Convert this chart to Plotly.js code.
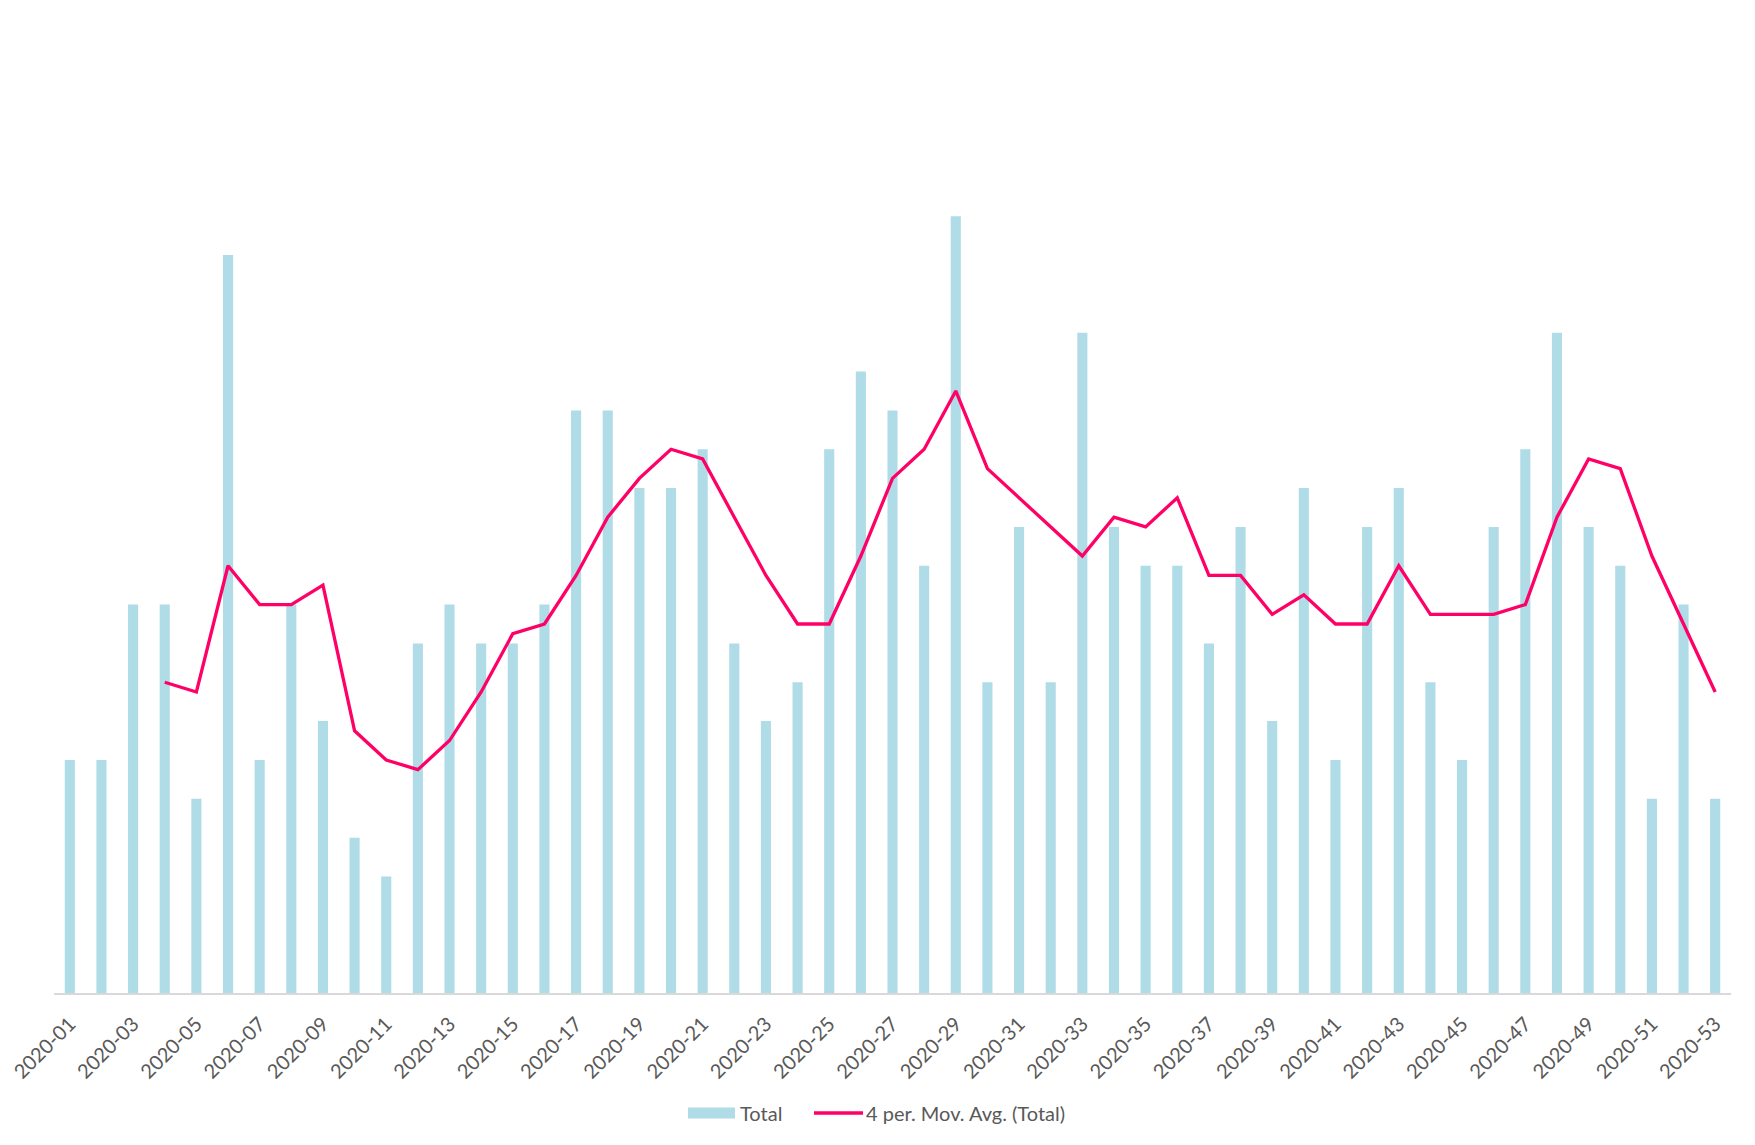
<!DOCTYPE html>
<html>
<head>
<meta charset="utf-8">
<script src="https://cdn.plot.ly/plotly-3.0.1.min.js"></script>
<style>
  html, body { margin: 0; padding: 0; background: #ffffff; }
  #chart { width: 1755px; height: 1145px; }
</style>
</head>
<body>
<div id="chart"></div>
<script>
// weekly totals
var weeks = ['2020-01','2020-02','2020-03','2020-04','2020-05','2020-06','2020-07','2020-08','2020-09','2020-10',
             '2020-11','2020-12','2020-13','2020-14','2020-15','2020-16','2020-17','2020-18','2020-19','2020-20',
             '2020-21','2020-22','2020-23','2020-24','2020-25','2020-26','2020-27','2020-28','2020-29','2020-30',
             '2020-31','2020-32','2020-33','2020-34','2020-35','2020-36','2020-37','2020-38','2020-39','2020-40',
             '2020-41','2020-42','2020-43','2020-44','2020-45','2020-46','2020-47','2020-48','2020-49','2020-50',
             '2020-51','2020-52','2020-53'];

var totals = [6,6,10,10,5,19,6,10,7,4,
              3,9,10,9,9,10,15,15,13,13,
              14,9,7,8,14,16,15,11,20,8,
              12,8,17,12,11,11,9,12,7,13,
              6,12,13,8,6,12,14,17,12,11,
              5,10,5];

// 4 period moving average line as drawn (starts at week 4)
var movAvg = [null,null,null,8,7.75,11,10,10,10.5,6.75,
              6,5.75,6.5,7.75,9.25,9.5,10.75,12.25,13.25,14,
              13.75,12.25,10.75,9.5,9.5,11.25,13.25,14,15.5,13.5,
              12.75,12,11.25,12.25,12,12.75,10.75,10.75,9.75,10.25,
              9.5,9.5,11,9.75,9.75,9.75,10,12.25,13.75,13.5,
              11.25,9.5,7.75];

var barColor = '#b0dce8';
var lineColor = '#ff0066';
var textColor = '#595959';

var W = 1755, H = 1145;
var mar = {l: 54, r: 24, t: 22, b: 152};

// pixel -> paper helpers for the hand made legend
function px(x) { return (x - mar.l) / (W - mar.l - mar.r); }
function py(y) { return (H - mar.b - y) / (H - mar.t - mar.b); }

var barTrace = {
    x: weeks,
    y: totals,
    type: 'bar',
    name: 'Total',
    width: 0.32,
    marker: {color: barColor},
    showlegend: false
};

var avgTrace = {
    x: weeks,
    y: movAvg,
    type: 'scatter',
    mode: 'lines',
    name: '4 per. Mov. Avg. (Total)',
    line: {color: lineColor, width: 3.3},
    showlegend: false
};

var legendY = 1113;

var layout = {
    width: W,
    height: H,
    margin: mar,
    paper_bgcolor: '#ffffff',
    plot_bgcolor: '#ffffff',
    font: {family: 'Lato, "Open Sans", sans-serif', color: textColor, size: 20},
    showlegend: false,
    xaxis: {
        type: 'category',
        tickangle: -45,
        dtick: 2,
        showgrid: false,
        zeroline: false,
        showline: true,
        linecolor: '#d9d9d9',
        linewidth: 1.5,
        ticks: '',
        ticklabelstandoff: 10,
        tickfont: {size: 20, color: textColor}
    },
    yaxis: {
        range: [0, 25],
        visible: false,
        showgrid: false,
        zeroline: false
    },
    shapes: [
        {type: 'rect', xref: 'paper', yref: 'paper',
         x0: px(688), x1: px(735), y0: py(legendY - 5.5), y1: py(legendY + 5.5),
         fillcolor: barColor, line: {width: 0}},
        {type: 'line', xref: 'paper', yref: 'paper',
         x0: px(814), x1: px(863), y0: py(legendY), y1: py(legendY),
         line: {color: lineColor, width: 3.3}}
    ],
    annotations: [
        {xref: 'paper', yref: 'paper', x: px(738), y: py(legendY),
         xanchor: 'left', yanchor: 'middle', showarrow: false,
         text: 'Total', font: {size: 20, color: textColor}},
        {xref: 'paper', yref: 'paper', x: px(864), y: py(legendY),
         xanchor: 'left', yanchor: 'middle', showarrow: false,
         text: '4 per. Mov. Avg. (Total)', font: {size: 20, color: textColor}}
    ]
};

Plotly.newPlot('chart', [barTrace, avgTrace], layout, {displayModeBar: false, staticPlot: true});
</script>
</body>
</html>
